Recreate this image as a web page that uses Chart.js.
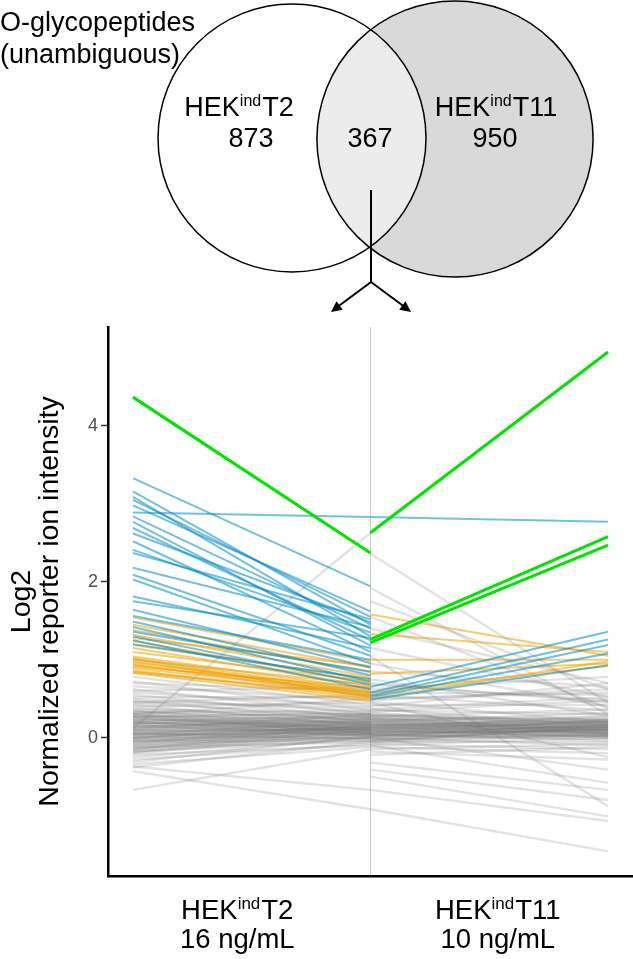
<!DOCTYPE html>
<html lang="en">
<head>
<meta charset="UTF-8">
<title>O-glycopeptides - reporter ion intensity</title>
<script src="https://cdn.jsdelivr.net/npm/chart.js@4"></script>
<style>
  html, body { margin: 0; padding: 0; background: #fff; }
  canvas { display: block; }
</style>
</head>
<body>
<canvas id="chart" width="633" height="959"></canvas>
<script>
// Venn: T2 only, shared, T11 only
const vennTitle = ['O-glycopeptides', '(unambiguous)'];
const vennCells = ['T2', 'T11'];
const vennCounts = [873, 367, 950];

// x groups
const cellLines = ['T2', 'T11'];
const doses = ['16 ng/mL', '10 ng/mL'];
const yTicks = [0, 2, 4];

// [start, end] pairs. left panel: T2 -> middle, right panel: middle -> T11
const leftGreen = [[4.37, 2.37]];
const leftBlue = [
  [3.33, 1.94], [3.16, 1.45], [3.09, 1.30], [3.05, 1.55], [2.98, 1.62], [2.89, 2.83], [2.84, 1.40],
  [2.77, 1.18], [2.69, 1.25], [2.62, 1.48], [2.52, 1.10], [2.41, 1.35], [2.37, 1.52], [2.18, 1.42],
  [2.09, 1.05], [2.03, 0.95], [1.81, 1.15], [1.75, 1.28], [1.64, 0.90], [1.56, 1.00], [1.49, 0.80],
  [1.42, 0.72], [1.36, 0.85], [1.30, 0.68], [1.25, 0.62], [1.20, 0.75]
];
const leftOrange = [
  [1.54, 0.98], [1.45, 0.90], [1.38, 0.84], [1.32, 0.78], [1.28, 0.92], [1.24, 0.70], [1.19, 0.76],
  [1.15, 0.66], [1.10, 0.72], [1.04, 0.62], [1.02, 0.58], [1.00, 0.68], [0.98, 0.55], [0.96, 0.60],
  [0.94, 0.52], [0.91, 0.64], [0.89, 0.57], [0.86, 0.50], [0.84, 0.54], [0.83, 0.47], [1.01, 0.52],
  [0.93, 0.58]
];
const leftGray = [
  [0.85, 0.55], [0.78, 0.42], [0.72, 0.35], [0.70, 0.60], [0.66, 0.48], [0.62, 0.30], [0.60, 0.65],
  [0.58, 0.40], [0.55, 0.25], [0.52, 0.52], [0.50, 0.33], [0.48, 0.20], [0.46, 0.38], [0.45, 0.55],
  [0.44, 0.28], [0.42, 0.15], [0.40, 0.45], [0.38, 0.22], [0.36, 0.30], [0.35, 0.10], [0.34, 0.18],
  [0.33, 0.26], [0.32, 0.35], [0.31, 0.08], [0.30, 0.18], [0.30, 0.50], [0.29, 0.05], [0.28, 0.30],
  [0.27, 0.24], [0.27, 0.16], [0.26, 0.32], [0.26, 0.06], [0.25, 0.12], [0.24, 0.14], [0.23, 0.20],
  [0.22, 0.28], [0.22, 0.12], [0.21, 0.02], [0.20, 0.08], [0.19, 0.16], [0.19, 0.28], [0.18, 0.25],
  [0.18, 0.11], [0.17, 0.20], [0.16, 0.02], [0.15, 0.14], [0.15, 0.07], [0.14, 0.22], [0.13, 0.26],
  [0.12, 0.10], [0.12, 2.63], [0.11, 0.30], [0.11, 0.18], [0.10, 0.05], [0.09, 0.10], [0.09, 0.24],
  [0.08, 0.18], [0.07, 0.12], [0.06, -0.02], [0.06, 0.12], [0.05, 0.20], [0.05, 0.04], [0.04, 0.08],
  [0.03, 0.24], [0.03, 0.06], [0.02, 0.15], [0.01, 0.00], [0.00, 0.10], [0.00, 0.16], [-0.01, 0.22],
  [-0.01, 0.14], [-0.02, 0.04], [-0.03, 0.08], [-0.04, 0.12], [-0.04, 0.00], [-0.05, -0.04],
  [-0.06, 0.06], [-0.07, 0.20], [-0.08, 0.16], [-0.09, 0.00], [-0.10, 0.14], [-0.11, 0.09],
  [-0.12, -0.06], [-0.13, 0.06], [-0.14, 0.03], [-0.15, 0.18], [-0.16, 0.12], [-0.17, 0.00],
  [-0.18, -0.03], [-0.19, 0.10], [-0.20, 0.05], [-0.22, -0.10], [-0.25, 0.00], [-0.28, -0.08],
  [-0.31, 0.02], [-0.34, -0.12], [-0.37, -0.67], [-0.38, -0.05], [-0.43, -0.92], [-0.67, -0.15]
];

const rightGreen = [[2.63, 4.95], [1.26, 2.58], [1.22, 2.47]];
const rightBlue = [[2.83, 2.77], [0.65, 1.36], [0.58, 1.26], [0.54, 1.19], [0.52, 1.08], [0.49, 0.93]];
const rightOrange = [[1.58, 1.05], [1.33, 1.10], [1.00, 1.00], [0.82, 0.95], [0.58, 0.92], [0.50, 0.98]];
const rightGray = [
  [2.36, 0.45], [1.92, 0.30], [1.75, 0.62], [1.55, 0.38], [1.40, 0.70], [1.15, 0.52], [1.04, -0.88],
  [0.95, 0.40], [0.85, 0.65], [0.75, 0.28], [0.70, 0.45], [0.68, 0.48], [0.62, 0.78], [0.58, 0.55],
  [0.55, 0.35], [0.50, 0.58], [0.48, 0.62], [0.46, 0.20], [0.45, -0.25], [0.42, 0.42], [0.40, 0.70],
  [0.37, 0.15], [0.36, 0.52], [0.35, 0.30], [0.33, 0.48], [0.32, 0.12], [0.30, 0.22], [0.29, 0.18],
  [0.28, 0.08], [0.28, 0.20], [0.27, 0.36], [0.26, 0.05], [0.25, 0.18], [0.24, 0.26], [0.24, 0.10],
  [0.23, 0.16], [0.22, 0.05], [0.22, 0.24], [0.21, 0.14], [0.20, 0.32], [0.20, 0.12], [0.19, 0.08],
  [0.18, 0.20], [0.18, 0.04], [0.17, 0.10], [0.17, 0.14], [0.16, 0.02], [0.16, 0.22], [0.15, 0.24],
  [0.15, 0.18], [0.14, 0.16], [0.14, 0.12], [0.13, 0.08], [0.13, 0.00], [0.12, 0.28], [0.12, 0.06],
  [0.11, 0.12], [0.11, 0.20], [0.10, 0.00], [0.10, 0.22], [0.09, 0.20], [0.09, 0.02], [0.08, 0.06],
  [0.08, 0.14], [0.07, 0.15], [0.07, 0.10], [0.06, 0.22], [0.06, 0.08], [0.05, -0.04], [0.05, 0.10],
  [0.04, 0.10], [0.04, -0.02], [0.03, 0.18], [0.03, 0.02], [0.02, 0.04], [0.02, 0.16], [0.01, 0.12],
  [0.01, 0.18], [0.00, -0.10], [0.00, -0.41], [-0.01, 0.08], [-0.02, 0.02], [-0.02, 0.12],
  [-0.04, 0.14], [-0.04, 0.06], [-0.05, -0.06], [-0.06, 0.16], [-0.07, 0.04], [-0.08, -0.15],
  [-0.10, 0.00], [-0.10, -0.58], [-0.12, -0.20], [-0.15, -0.08], [-0.18, -0.28], [-0.22, -0.12],
  [-0.32, -0.67], [-0.41, -0.80], [-0.50, -1.01], [-0.67, -1.07], [-0.92, -1.46]
];

const FONT = "'Liberation Sans', Arial, Helvetica, sans-serif";
Chart.defaults.font.family = FONT;

// one dataset per line so the transparent lines build up where they overlap
function segments(pairs, x0, color, width, order) {
  return pairs.map(p => ({
    data: [{ x: x0, y: p[0] }, { x: x0 + 1, y: p[1] }],
    borderColor: color,
    borderWidth: width,
    order: order,
    pointRadius: 0,
    fill: false
  }));
}

const gray = 'rgba(120,120,120,0.21)';
const orange = 'rgba(240,160,0,0.55)';
const blue = 'rgba(0,140,200,0.55)';
const green = '#00e400';

const datasets = [].concat(
  segments(leftGreen, 0, green, 3, 0),
  segments(rightGreen, 1, green, 3, 0),
  segments(leftBlue, 0, blue, 2, 1),
  segments(rightBlue, 1, blue, 2, 1),
  segments(leftOrange, 0, orange, 2, 2),
  segments(rightOrange, 1, orange, 2, 2),
  segments(leftGray, 0, gray, 2.4, 3),
  segments(rightGray, 1, gray, 2.4, 3)
);

// HEK + superscript "ind" + cell line
function drawHek(ctx, cx, baseline, cell, size) {
  const sup = Math.round(size * 0.6);
  ctx.font = size + 'px ' + FONT;
  const wHek = ctx.measureText('HEK').width;
  const wCell = ctx.measureText(cell).width;
  ctx.font = sup + 'px ' + FONT;
  const wSup = ctx.measureText('ind').width + 1;
  let x = cx - (wHek + wSup + wCell) / 2;
  ctx.textAlign = 'left';
  ctx.textBaseline = 'alphabetic';
  ctx.fillStyle = '#000';
  ctx.font = size + 'px ' + FONT;
  ctx.fillText('HEK', x, baseline);
  x += wHek;
  ctx.font = sup + 'px ' + FONT;
  ctx.fillText('ind', x, baseline - size * 0.38);
  x += wSup;
  ctx.font = size + 'px ' + FONT;
  ctx.fillText(cell, x, baseline);
}

const xLabelPlugin = {
  id: 'xLabels',
  afterDraw(chart) {
    const { ctx, chartArea, scales } = chart;
    const mid = scales.x.getPixelForValue(1);
    const centers = [(chartArea.left + mid) / 2 - 2, (mid + chartArea.right) / 2 - 4];
    ctx.save();
    cellLines.forEach((c, i) => {
      drawHek(ctx, centers[i], chartArea.bottom + 43, c, 27.5);
      ctx.font = '27.5px ' + FONT;
      ctx.textAlign = 'center';
      ctx.fillText(doses[i], centers[i], chartArea.bottom + 72);
    });
    ctx.restore();
  }
};

const vennPlugin = {
  id: 'venn',
  afterDraw(chart) {
    const ctx = chart.ctx;
    // circle area follows the set size
    const k = 3.805;
    const rL = k * Math.sqrt(vennCounts[0] + vennCounts[1]);
    const rR = k * Math.sqrt(vennCounts[1] + vennCounts[2]);
    const L = { x: 292, y: 138 };
    const R = { x: 455, y: 139 };
    ctx.save();
    ctx.beginPath();
    ctx.arc(L.x, L.y, rL, 0, Math.PI * 2);
    ctx.fillStyle = '#fff';
    ctx.fill();
    ctx.beginPath();
    ctx.arc(R.x, R.y, rR, 0, Math.PI * 2);
    ctx.fillStyle = '#d9d9d9';
    ctx.fill();
    ctx.save();
    ctx.beginPath();
    ctx.arc(L.x, L.y, rL, 0, Math.PI * 2);
    ctx.clip();
    ctx.beginPath();
    ctx.arc(R.x, R.y, rR, 0, Math.PI * 2);
    ctx.fillStyle = '#ececec';
    ctx.fill();
    ctx.restore();
    ctx.strokeStyle = '#000';
    ctx.lineWidth = 1.5;
    ctx.beginPath();
    ctx.arc(L.x, L.y, rL, 0, Math.PI * 2);
    ctx.stroke();
    ctx.beginPath();
    ctx.arc(R.x, R.y, rR, 0, Math.PI * 2);
    ctx.stroke();

    // arrow pointing down into both panels
    ctx.lineWidth = 2;
    ctx.beginPath();
    ctx.moveTo(371, 190);
    ctx.lineTo(371, 282);
    ctx.lineTo(336, 308);
    ctx.moveTo(371, 282);
    ctx.lineTo(406, 308);
    ctx.stroke();
    ctx.fillStyle = '#000';
    [[331, 312, -1], [411, 312, 1]].forEach(([tx, ty, d]) => {
      const ang = Math.atan2(30, 40 * d);
      ctx.beginPath();
      ctx.moveTo(tx, ty);
      ctx.lineTo(tx - 12 * Math.cos(ang - 0.45), ty - 12 * Math.sin(ang - 0.45));
      ctx.lineTo(tx - 12 * Math.cos(ang + 0.45), ty - 12 * Math.sin(ang + 0.45));
      ctx.closePath();
      ctx.fill();
    });

    ctx.font = '27px ' + FONT;
    ctx.textAlign = 'left';
    ctx.textBaseline = 'alphabetic';
    ctx.fillText(vennTitle[0], 0, 31);
    ctx.fillText(vennTitle[1], 0, 63);
    drawHek(ctx, 239, 116, vennCells[0], 27);
    drawHek(ctx, 496, 116, vennCells[1], 27);
    ctx.font = '27px ' + FONT;
    ctx.textAlign = 'center';
    ctx.fillText(String(vennCounts[0]), 251, 147);
    ctx.fillText(String(vennCounts[1]), 370, 147);
    ctx.fillText(String(vennCounts[2]), 495, 147);
    ctx.restore();
  }
};

new Chart(document.getElementById('chart'), {
  type: 'line',
  data: { datasets: datasets },
  options: {
    responsive: false,
    animation: false,
    layout: { padding: { top: 327, right: 0, bottom: 0, left: 0 } },
    plugins: { legend: { display: false }, tooltip: { enabled: false } },
    scales: {
      x: {
        type: 'linear',
        min: -0.105,
        max: 2.105,
        afterBuildTicks: s => { s.ticks = [{ value: 1 }]; },
        afterFit: s => { s.height = 83; },
        ticks: { display: false },
        grid: { drawTicks: false, color: 'rgba(0,0,0,0.22)', lineWidth: 1 },
        border: { display: true, color: '#000', width: 2.5 }
      },
      y: {
        min: -1.776,
        max: 5.27,
        afterBuildTicks: s => { s.ticks = yTicks.map(v => ({ value: v })); },
        afterFit: s => { s.width = 108; },
        ticks: { color: '#4d4d4d', font: { size: 18 }, padding: 3 },
        grid: { drawOnChartArea: false, tickLength: 7, tickColor: '#333', tickWidth: 1.5 },
        border: { display: true, color: '#000', width: 2.5 },
        title: {
          display: true,
          text: ['Log2', 'Normalized reporter ion intensity'],
          color: '#000',
          font: { size: 28.5, lineHeight: 0.98 },
          padding: { top: 8, bottom: 0 }
        }
      }
    }
  },
  plugins: [vennPlugin, xLabelPlugin]
});
</script>
</body>
</html>
